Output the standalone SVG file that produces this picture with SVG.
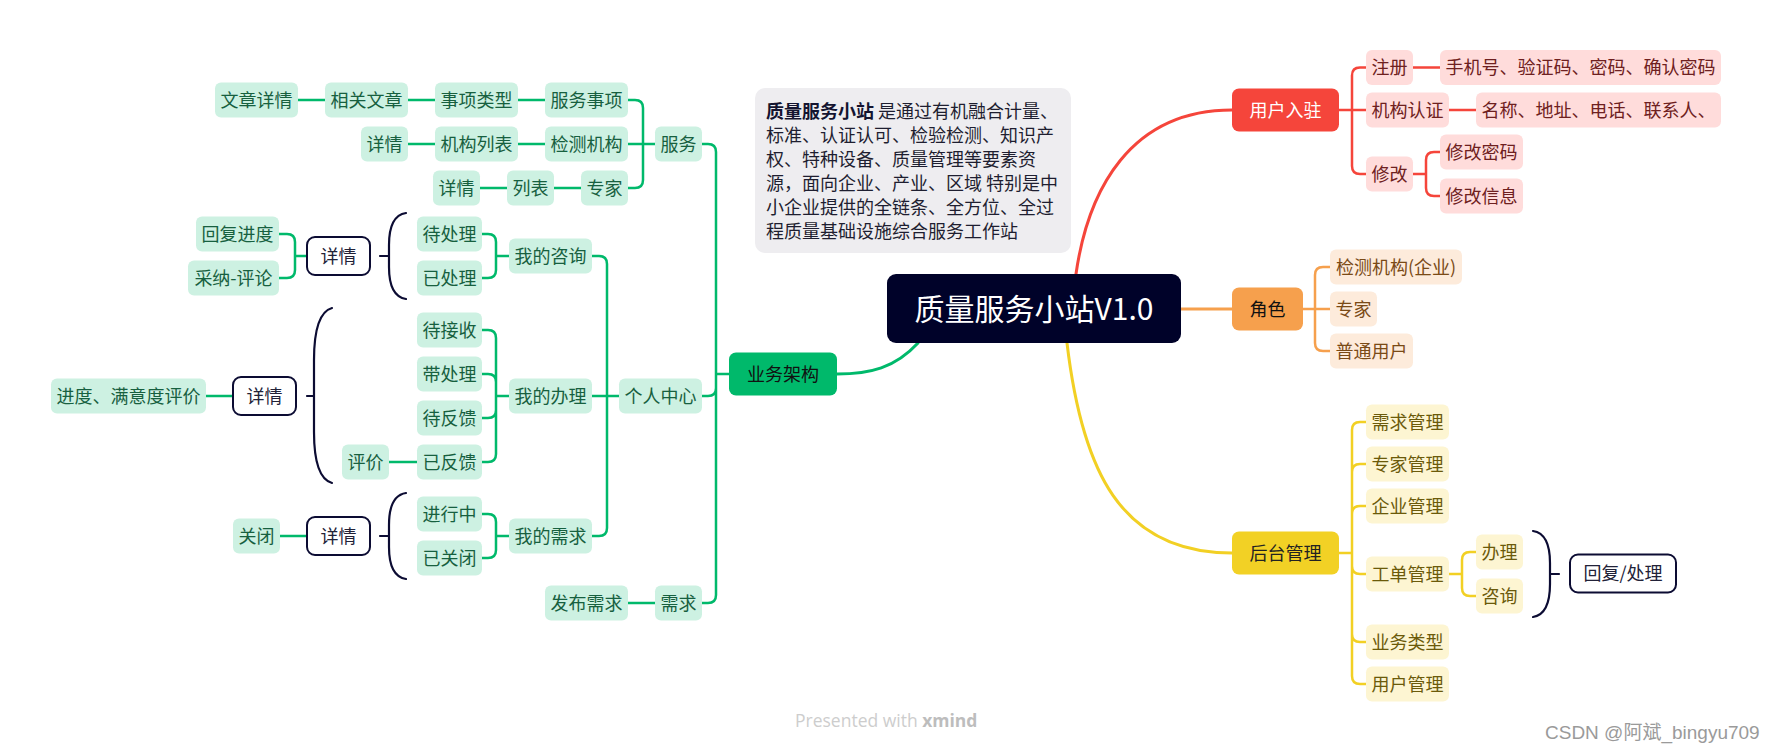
<svg xmlns="http://www.w3.org/2000/svg" width="1772" height="752" viewBox="0 0 1772 752">
<style>
text{font-family:"Noto Sans CJK SC","Noto Sans",sans-serif;font-size:18px;text-anchor:middle}
.g rect{fill:#cdf1e2}.g text{fill:#17603f}
.p rect{fill:#ffdcdb}.p text{fill:#6e2020}
.o rect{fill:#fdebdb}.o text{fill:#7a4a16}
.y rect{fill:#fdf5d2}.y text{fill:#6b5a0a}
.b rect{fill:#fff;stroke:#0c0c33;stroke-width:2}.b text{fill:#222238}
.c{fill:none;stroke-width:2.5;stroke-linecap:round;stroke-linejoin:round}
.cg{stroke:#00b96b}.cr{stroke:#f5453b}.co{stroke:#f6a04d}.cy{stroke:#f2d024}.cb{stroke:#0c0c33;stroke-width:2.2}
.main{stroke-width:3}
.note text{text-anchor:start;fill:#1e1e30}
</style>
<rect width="1772" height="752" fill="#fff"/>
<g id="connectors">
<path class="c cg main" d="M918,343 C895,368 870,374 837,374"/>
<path class="c cr main" d="M1076,274 C1088,190 1130,110 1232,110"/>
<path class="c co main" d="M1181,309 H1232"/>
<path class="c cy main" d="M1067,343 C1082,470 1120,553 1232,553"/>
<g class="c cg">
<path d="M729,374 H716 M716,374 V152 Q716,144 708,144 H702 M716,374 V388 Q716,396 708,396 H702 M716,374 V595 Q716,603 708,603 H701"/>
<path d="M655,144 H628 M643,144 V108 Q643,100 635,100 H628 M643,144 V180 Q643,188 635,188 H628"/>
<path d="M545,100 H518 M435,100 H408 M325,100 H298 M545,144 H518 M435,144 H408 M581,188 H554 M507,188 H480"/>
<path d="M619,396 H592 M607,396 V264 Q607,256 599,256 H592 M607,396 V528 Q607,536 599,536 H592"/>
<path d="M509,256 H496 M496,256 V242 Q496,234 488,234 H482 M496,256 V270 Q496,278 488,278 H482"/>
<path d="M509,396 H496 M496,396 V338 Q496,330 488,330 H482 M496,396 V382 Q496,374 488,374 H482 M496,396 V410 Q496,418 488,418 H482 M496,396 V454 Q496,462 488,462 H482"/>
<path d="M417,462 H389"/>
<path d="M509,536 H496 M496,536 V522 Q496,514 488,514 H482 M496,536 V550 Q496,558 488,558 H482"/>
<path d="M307,256 H295 M295,256 V242 Q295,234 287,234 H279 M295,256 V270 Q295,278 287,278 H279"/>
<path d="M233,396 H206 M307,536 H280 M655,603 H628"/>
</g>
<g class="c cr">
<path d="M1339,110 H1366 M1352,110 V75.5 Q1352,67.5 1360,67.5 H1366 M1352,110 V166 Q1352,174 1360,174 H1366"/>
<path d="M1413,67.5 H1440 M1449,110 H1476"/>
<path d="M1413,174 H1426 M1426,174 V160 Q1426,152 1434,152 H1440 M1426,174 V188 Q1426,196 1434,196 H1440"/>
</g>
<g class="c co">
<path d="M1303,309 H1330 M1315,309 V275 Q1315,267 1323,267 H1330 M1315,309 V343 Q1315,351 1323,351 H1330"/>
</g>
<g class="c cy">
<path d="M1339,553 H1352 M1352,553 V430 Q1352,422 1360,422 H1366 M1352,553 V472 Q1352,464 1360,464 H1366 M1352,553 V514 Q1352,506 1360,506 H1366 M1352,553 V566 Q1352,574 1360,574 H1366 M1352,553 V634 Q1352,642 1360,642 H1366 M1352,553 V676 Q1352,684 1360,684 H1366"/>
<path d="M1449,574 H1462 M1462,574 V560 Q1462,552 1470,552 H1476 M1462,574 V588 Q1462,596 1470,596 H1476"/>
</g>
<g class="c cb">
<path d="M406,213 C393,215 389,228 389,245 V267 C389,284 393,297 406,299 M380,256 H389"/>
<path d="M332,308 C318,312 314,335 314,360 V432 C314,458 318,479 332,483 M307,396 H314"/>
<path d="M406,493 C393,495 389,508 389,525 V547 C389,564 393,577 406,579 M380,536 H389"/>
<path d="M1533,531 C1546,533 1550,546 1550,563 V584 C1550,601 1546,615 1533,617 M1550,574 H1559"/>
</g>
</g>

<g id="center"><rect x="887" y="274" width="294" height="69" rx="9" fill="#000229"/><text x="1034" y="320" style="font-size:30px" fill="#fff">质量服务小站V1.0</text></g>

<g id="note" class="note">
<rect x="755" y="88" width="316" height="165" rx="10" fill="#eeedf0"/>
<text x="766" y="118"><tspan font-weight="bold" fill="#141430">质量服务小站</tspan> 是通过有机融合计量、</text>
<text x="766" y="142">标准、认证认可、检验检测、知识产</text>
<text x="766" y="166">权、特种设备、质量管理等要素资</text>
<text x="766" y="190">源，面向企业、产业、区域 特别是中</text>
<text x="766" y="214">小企业提供的全链条、全方位、全过</text>
<text x="766" y="238">程质量基础设施综合服务工作站</text>
</g>

<g id="n-ywjg"><rect x="729" y="352.5" width="108" height="43" rx="7" fill="#00b96b"/><text x="783" y="380.5" fill="#111">业务架构</text></g>
<g id="n-fw" class="g"><rect x="655" y="126.5" width="47" height="35" rx="6"/><text x="678.5" y="150.5">服务</text></g>
<g id="n-fwsx" class="g"><rect x="545" y="82.5" width="83" height="35" rx="6"/><text x="586.5" y="106.5">服务事项</text></g>
<g id="n-sxlx" class="g"><rect x="435" y="82.5" width="83" height="35" rx="6"/><text x="476.5" y="106.5">事项类型</text></g>
<g id="n-xgwz" class="g"><rect x="325" y="82.5" width="83" height="35" rx="6"/><text x="366.5" y="106.5">相关文章</text></g>
<g id="n-wzxq" class="g"><rect x="215" y="82.5" width="83" height="35" rx="6"/><text x="256.5" y="106.5">文章详情</text></g>
<g id="n-jcjg" class="g"><rect x="545" y="126.5" width="83" height="35" rx="6"/><text x="586.5" y="150.5">检测机构</text></g>
<g id="n-jglb" class="g"><rect x="435" y="126.5" width="83" height="35" rx="6"/><text x="476.5" y="150.5">机构列表</text></g>
<g id="n-xq1" class="g"><rect x="361" y="126.5" width="47" height="35" rx="6"/><text x="384.5" y="150.5">详情</text></g>
<g id="n-zj" class="g"><rect x="581" y="170.5" width="47" height="35" rx="6"/><text x="604.5" y="194.5">专家</text></g>
<g id="n-lb" class="g"><rect x="507" y="170.5" width="47" height="35" rx="6"/><text x="530.5" y="194.5">列表</text></g>
<g id="n-xq2" class="g"><rect x="433" y="170.5" width="47" height="35" rx="6"/><text x="456.5" y="194.5">详情</text></g>

<g id="n-grzx" class="g"><rect x="619" y="378.5" width="83" height="35" rx="6"/><text x="660.5" y="402.5">个人中心</text></g>
<g id="n-wdzx" class="g"><rect x="509" y="238.5" width="83" height="35" rx="6"/><text x="550.5" y="262.5">我的咨询</text></g>
<g id="n-dcl" class="g"><rect x="417" y="216.5" width="65" height="35" rx="6"/><text x="449.5" y="240.5">待处理</text></g>
<g id="n-ycl" class="g"><rect x="417" y="260.5" width="65" height="35" rx="6"/><text x="449.5" y="284.5">已处理</text></g>
<g id="n-xq3" class="b"><rect x="307" y="237" width="63" height="38" rx="8"/><text x="338.5" y="262.5">详情</text></g>
<g id="n-hfjd" class="g"><rect x="196" y="216.5" width="83" height="35" rx="6"/><text x="237.5" y="240.5">回复进度</text></g>
<g id="n-cnpl" class="g"><rect x="188" y="260.5" width="91" height="35" rx="6"/><text x="233.5" y="284.5">采纳-评论</text></g>

<g id="n-wdbl" class="g"><rect x="509" y="378.5" width="83" height="35" rx="6"/><text x="550.5" y="402.5">我的办理</text></g>
<g id="n-djs" class="g"><rect x="417" y="312.5" width="65" height="35" rx="6"/><text x="449.5" y="336.5">待接收</text></g>
<g id="n-dcl2" class="g"><rect x="417" y="356.5" width="65" height="35" rx="6"/><text x="449.5" y="380.5">带处理</text></g>
<g id="n-dfk" class="g"><rect x="417" y="400.5" width="65" height="35" rx="6"/><text x="449.5" y="424.5">待反馈</text></g>
<g id="n-yfk" class="g"><rect x="417" y="444.5" width="65" height="35" rx="6"/><text x="449.5" y="468.5">已反馈</text></g>
<g id="n-pj" class="g"><rect x="342" y="444.5" width="47" height="35" rx="6"/><text x="365.5" y="468.5">评价</text></g>
<g id="n-xq4" class="b"><rect x="233" y="377" width="63" height="38" rx="8"/><text x="264.5" y="402.5">详情</text></g>
<g id="n-jdmyd" class="g"><rect x="51" y="378.5" width="155" height="35" rx="6"/><text x="128.5" y="402.5">进度、满意度评价</text></g>

<g id="n-wdxq" class="g"><rect x="509" y="518.5" width="83" height="35" rx="6"/><text x="550.5" y="542.5">我的需求</text></g>
<g id="n-jxz" class="g"><rect x="417" y="496.5" width="65" height="35" rx="6"/><text x="449.5" y="520.5">进行中</text></g>
<g id="n-ygb" class="g"><rect x="417" y="540.5" width="65" height="35" rx="6"/><text x="449.5" y="564.5">已关闭</text></g>
<g id="n-xq5" class="b"><rect x="307" y="517" width="63" height="38" rx="8"/><text x="338.5" y="542.5">详情</text></g>
<g id="n-gb" class="g"><rect x="233" y="518.5" width="47" height="35" rx="6"/><text x="256.5" y="542.5">关闭</text></g>
<g id="n-xqq" class="g"><rect x="655" y="585.5" width="47" height="35" rx="6"/><text x="678.5" y="609.5">需求</text></g>
<g id="n-fbxq" class="g"><rect x="545" y="585.5" width="83" height="35" rx="6"/><text x="586.5" y="609.5">发布需求</text></g>

<g id="n-yhrz"><rect x="1232" y="88.5" width="107" height="43" rx="7" fill="#f5453b"/><text x="1285.5" y="116.5" fill="#fff">用户入驻</text></g>
<g id="n-zc" class="p"><rect x="1366" y="50" width="47" height="35" rx="6"/><text x="1389.5" y="74">注册</text></g>
<g id="n-sjh" class="p"><rect x="1440" y="50" width="281" height="35" rx="6"/><text x="1580.5" y="74">手机号、验证码、密码、确认密码</text></g>
<g id="n-jgrz" class="p"><rect x="1366" y="92.5" width="83" height="35" rx="6"/><text x="1407.5" y="116.5">机构认证</text></g>
<g id="n-mc" class="p"><rect x="1476" y="92.5" width="245" height="35" rx="6"/><text x="1598.5" y="116.5">名称、地址、电话、联系人、</text></g>
<g id="n-xg" class="p"><rect x="1366" y="156.5" width="47" height="35" rx="6"/><text x="1389.5" y="180.5">修改</text></g>
<g id="n-xgmm" class="p"><rect x="1440" y="134.5" width="83" height="35" rx="6"/><text x="1481.5" y="158.5">修改密码</text></g>
<g id="n-xgxx" class="p"><rect x="1440" y="178.5" width="83" height="35" rx="6"/><text x="1481.5" y="202.5">修改信息</text></g>

<g id="n-js"><rect x="1232" y="287.5" width="71" height="43" rx="7" fill="#f6a04d"/><text x="1267.5" y="315.5" fill="#111">角色</text></g>
<g id="n-jcqy" class="o"><rect x="1330" y="249.5" width="132" height="35" rx="6"/><text x="1396" y="273.5">检测机构(企业)</text></g>
<g id="n-zj2" class="o"><rect x="1330" y="291.5" width="47" height="35" rx="6"/><text x="1353.5" y="315.5">专家</text></g>
<g id="n-ptyh" class="o"><rect x="1330" y="333.5" width="83" height="35" rx="6"/><text x="1371.5" y="357.5">普通用户</text></g>

<g id="n-htgl"><rect x="1232" y="531.5" width="107" height="43" rx="7" fill="#f2d125"/><text x="1285.5" y="559.5" fill="#222">后台管理</text></g>
<g id="n-xqgl" class="y"><rect x="1366" y="404.5" width="83" height="35" rx="6"/><text x="1407.5" y="428.5">需求管理</text></g>
<g id="n-zjgl" class="y"><rect x="1366" y="446.5" width="83" height="35" rx="6"/><text x="1407.5" y="470.5">专家管理</text></g>
<g id="n-qygl" class="y"><rect x="1366" y="488.5" width="83" height="35" rx="6"/><text x="1407.5" y="512.5">企业管理</text></g>
<g id="n-gdgl" class="y"><rect x="1366" y="556.5" width="83" height="35" rx="6"/><text x="1407.5" y="580.5">工单管理</text></g>
<g id="n-bl" class="y"><rect x="1476" y="534.5" width="47" height="35" rx="6"/><text x="1499.5" y="558.5">办理</text></g>
<g id="n-zx" class="y"><rect x="1476" y="578.5" width="47" height="35" rx="6"/><text x="1499.5" y="602.5">咨询</text></g>
<g id="n-hfcl" class="b"><rect x="1570" y="554.5" width="106" height="38" rx="8"/><text x="1623" y="580">回复/处理</text></g>
<g id="n-ywlx" class="y"><rect x="1366" y="624.5" width="83" height="35" rx="6"/><text x="1407.5" y="648.5">业务类型</text></g>
<g id="n-yhgl" class="y"><rect x="1366" y="666.5" width="83" height="35" rx="6"/><text x="1407.5" y="690.5">用户管理</text></g>

<text x="795" y="727" style="text-anchor:start;font-family:'Open Sans','Liberation Sans',sans-serif;font-size:17.5px" fill="#cdcdcd">Presented with <tspan font-weight="bold" fill="#bdbdbd">xmind</tspan></text>
<text x="1545" y="739" style="text-anchor:start;font-family:'Liberation Sans','Noto Sans CJK SC',sans-serif;font-size:19px" fill="#9a9a9a">CSDN @阿斌_bingyu709</text>
</svg>
